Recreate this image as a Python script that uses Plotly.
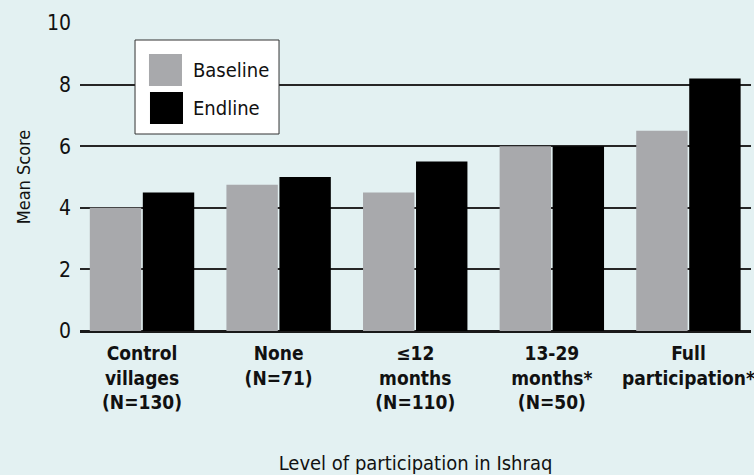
import plotly.graph_objects as go

categories = ["Control<br>villages<br>(N=130)", "None<br>(N=71)", "≤12<br>months<br>(N=110)",
              "13-29<br>months*<br>(N=50)", "Full<br>participation*"]
baseline = [4.0, 4.75, 4.5, 6.0, 6.5]
endline = [4.5, 5.0, 5.5, 6.0, 8.2]
series_names = ["Baseline", "Endline"]
y_ticks = [0, 2, 4, 6, 8, 10]

FONT = "DejaVu Sans Condensed, Liberation Sans Narrow, Arial Narrow, sans-serif"
BG = "#e3f1f2"
GRAY = "#a8a9ac"
BLACK = "#000000"
TXT = "#111111"

x_idx = list(range(len(categories)))

fig = go.Figure()
fig.add_trace(go.Bar(x=x_idx, y=baseline, name=series_names[0], marker=dict(color=GRAY, line=dict(width=0)),
                     showlegend=False))
fig.add_trace(go.Bar(x=x_idx, y=endline, name=series_names[1], marker=dict(color=BLACK, line=dict(width=0)),
                     showlegend=False))

fig.update_layout(
    width=754, height=475,
    margin=dict(l=80, r=3, t=23, b=144, autoexpand=False),
    paper_bgcolor=BG, plot_bgcolor=BG,
    barmode="group", bargap=0.224, bargroupgap=0.03,
    font=dict(family=FONT, size=20, color=TXT),
    showlegend=False,
    xaxis=dict(
        automargin=False,
        tickmode="array", tickvals=x_idx,
        ticktext=["<b>" + c + "</b>" for c in categories],
        range=[-0.454, 4.458], showgrid=False, zeroline=False, showline=False,
        ticks="", ticklabelstandoff=9, ticklabeloverflow="allow",
        tickfont=dict(family=FONT, size=19, color=TXT),
        title=dict(text="Level of participation in Ishraq", standoff=47,
                   font=dict(family=FONT, size=20, color=TXT)),
    ),
    yaxis=dict(
        automargin=False,
        range=[0, 10], tickvals=y_ticks, showgrid=True, gridcolor="#262626", gridwidth=1.5,
        zeroline=True, zerolinecolor="#1a1a1a", zerolinewidth=2.5, showline=False,
        ticks="", ticklabelstandoff=8,
        tickfont=dict(family=FONT, size=21, color=TXT),
        title=dict(text="Mean Score", standoff=11, font=dict(family=FONT, size=18, color=TXT)),
    ),
)

# Manual legend (large swatches)
fig.add_shape(type="rect", xref="paper", yref="paper", x0=0.082, x1=0.2966, y0=0.6396, y1=0.9448,
              fillcolor="white", line=dict(color="#333333", width=1), layer="above")
fig.add_shape(type="rect", xref="paper", yref="paper", x0=0.1028, x1=0.152, y0=0.7955, y1=0.8994,
              fillcolor=GRAY, line=dict(width=0), layer="above")
fig.add_shape(type="rect", xref="paper", yref="paper", x0=0.1043, x1=0.1535, y0=0.672, y1=0.776,
              fillcolor=BLACK, line=dict(width=0), layer="above")
fig.add_annotation(xref="paper", yref="paper", x=0.1654, y=0.847, text=series_names[0], showarrow=False,
                   xanchor="left", yanchor="middle", font=dict(family=FONT, size=20, color=TXT))
fig.add_annotation(xref="paper", yref="paper", x=0.1654, y=0.724, text=series_names[1], showarrow=False,
                   xanchor="left", yanchor="middle", font=dict(family=FONT, size=20, color=TXT))

fig.write_html(
    "out.html",
    config={"displayModeBar": False},
    post_script="document.body.style.margin='0';document.body.style.background='" + BG + "';",
)
